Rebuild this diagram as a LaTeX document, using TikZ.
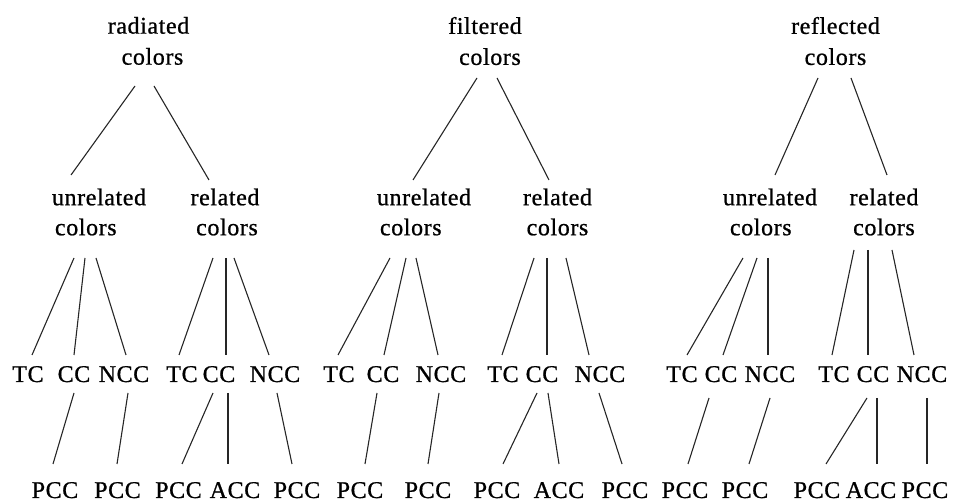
\documentclass[tikz,border=0pt]{standalone}
\usepackage{fontspec}
\setmainfont{Liberation Serif}[LetterSpace=2.5,FakeBold=0.8]
\usetikzlibrary{calc}
\newcommand\ctlink[4]{\draw[conn] ($(#1)+(#2)$) -- ($(#3)+(#4)$);}
\begin{document}
\begin{tikzpicture}[x=1pt,y=-1pt,
  lbl/.style={inner sep=0pt, outer sep=0pt, font=\fontsize{24}{30}\selectfont},
  ttl/.style={lbl, anchor=north, align=center, font=\fontsize{24}{31}\selectfont},
  midc/.style={lbl, anchor=north, align=center},
  midl/.style={lbl, anchor=north west, align=left},
  leaf/.style={lbl, anchor=base},
  conn/.style={line width=1.1pt, black!85}]
\useasboundingbox (0,0) rectangle (954,502);

% level 0
\node[ttl] (R) at (148.5,17) {radiated\\\hspace*{8pt}colors};
\node[ttl] (F) at (485,17) {filtered\\\hspace*{10pt}colors};
\node[ttl] (L) at (835.5,17) {reflected\\colors};

% level 1
\node[midl] (U1) at (52,188.6) {unrelated\\\hspace*{3pt}colors};
\node[midc] (E1) at (225,188.6) {related\\\hspace*{4pt}colors};
\node[midl] (U2) at (377,188.6) {unrelated\\\hspace*{3pt}colors};
\node[midc] (E2) at (557.5,188.6) {related\\colors};
\node[midl] (U3) at (723,188.6) {unrelated\\\hspace*{7pt}colors};
\node[midc] (E3) at (884,188.6) {related\\colors};

% level 2
\node[leaf] (a1) at (28,382) {TC};
\node[leaf] (a2) at (74,382) {CC};
\node[leaf] (a3) at (124,382) {NCC};
\node[leaf] (a4) at (182,382) {TC};
\node[leaf] (a5) at (219,382) {CC};
\node[leaf] (a6) at (275,382) {NCC};
\node[leaf] (b1) at (339,382) {TC};
\node[leaf] (b2) at (383,382) {CC};
\node[leaf] (b3) at (441,382) {NCC};
\node[leaf] (b4) at (503,382) {TC};
\node[leaf] (b5) at (542,382) {CC};
\node[leaf] (b6) at (600,382) {NCC};
\node[leaf] (c1) at (682,382) {TC};
\node[leaf] (c2) at (721,382) {CC};
\node[leaf] (c3) at (770,382) {NCC};
\node[leaf] (c4) at (834,382) {TC};
\node[leaf] (c5) at (873,382) {CC};
\node[leaf] (c6) at (922,382) {NCC};

% level 3
\node[leaf] (a7) at (55,498) {PCC};
\node[leaf] (a8) at (117.5,498) {PCC};
\node[leaf] (a9) at (178.5,498) {PCC};
\node[leaf] (a10) at (235,498) {ACC};
\node[leaf] (a11) at (297,498) {PCC};
\node[leaf] (b7) at (360,498) {PCC};
\node[leaf] (b8) at (428,498) {PCC};
\node[leaf] (b9) at (497,498) {PCC};
\node[leaf] (b10) at (559,498) {ACC};
\node[leaf] (b11) at (625,498) {PCC};
\node[leaf] (c7) at (685,498) {PCC};
\node[leaf] (c8) at (745,498) {PCC};
\node[leaf] (c9) at (817,498) {PCC};
\node[leaf] (c10) at (871,498) {ACC};
\node[leaf] (c11) at (925,498) {PCC};

% level 0 -> 1
\ctlink{R.north}{-13.5,69}{U1.north west}{19,-13.6}
\ctlink{R.north}{5.5,69}{E1.north}{-16,-8.6}
\ctlink{F.north}{-8,61}{U2.north west}{36,-8.6}
\ctlink{F.north}{12,61}{E2.north}{-8.5,-8.6}
\ctlink{L.north}{-17.5,61}{U3.north west}{52,-13.6}
\ctlink{L.north}{15.5,61}{E3.north}{3,-13.6}

% level 1 -> 2
\ctlink{U1.north west}{22,69.4}{a1.base}{4,-27}
\ctlink{U1.north west}{33,69.4}{a2.base}{0,-27}
\ctlink{U1.north west}{44,69.4}{a3.base}{2,-27}
\ctlink{E1.north}{-12,69.4}{a4.base}{-3,-27}
\ctlink{E1.north}{1,69.4}{a5.base}{7,-27}
\ctlink{E1.north}{9,69.4}{a6.base}{-6,-27}
\ctlink{U2.north west}{13,69.4}{b1.base}{-1,-27}
\ctlink{U2.north west}{29,69.4}{b2.base}{1,-27}
\ctlink{U2.north west}{39,69.4}{b3.base}{-3,-27}
\ctlink{E2.north}{-23.5,69.4}{b4.base}{-1,-27}
\ctlink{E2.north}{-10.5,69.4}{b5.base}{5,-27}
\ctlink{E2.north}{8.5,69.4}{b6.base}{-11,-27}
\ctlink{U3.north west}{20,69.4}{c1.base}{5,-27}
\ctlink{U3.north west}{34,69.4}{c2.base}{2,-27}
\ctlink{U3.north west}{45,69.4}{c3.base}{-2,-27}
\ctlink{E3.north}{-30,61.4}{c4.base}{-2,-27}
\ctlink{E3.north}{-16,61.4}{c5.base}{-5,-27}
\ctlink{E3.north}{8,61.4}{c6.base}{-8,-27}

% level 2 -> 3
\ctlink{a2.base}{0,11}{a7.base}{-2,-34}
\ctlink{a3.base}{4,11}{a8.base}{-0.5,-34}
\ctlink{a5.base}{-6,11}{a9.base}{3.5,-34}
\ctlink{a5.base}{9,11}{a10.base}{-7,-34}
\ctlink{a6.base}{2,11}{a11.base}{-5,-34}
\ctlink{b2.base}{-6,11}{b7.base}{5,-34}
\ctlink{b3.base}{-2,11}{b8.base}{0,-34}
\ctlink{b5.base}{-5,11}{b9.base}{6,-34}
\ctlink{b5.base}{6,11}{b10.base}{0,-34}
\ctlink{b6.base}{-1,11}{b11.base}{-3,-34}
\ctlink{c2.base}{-12,16}{c7.base}{3,-34}
\ctlink{c3.base}{0,16}{c8.base}{4,-34}
\ctlink{c5.base}{-6,16}{c9.base}{9,-34}
\ctlink{c5.base}{4,16}{c10.base}{6,-34}
\ctlink{c6.base}{5,16}{c11.base}{2,-34}
\end{tikzpicture}
\end{document}
